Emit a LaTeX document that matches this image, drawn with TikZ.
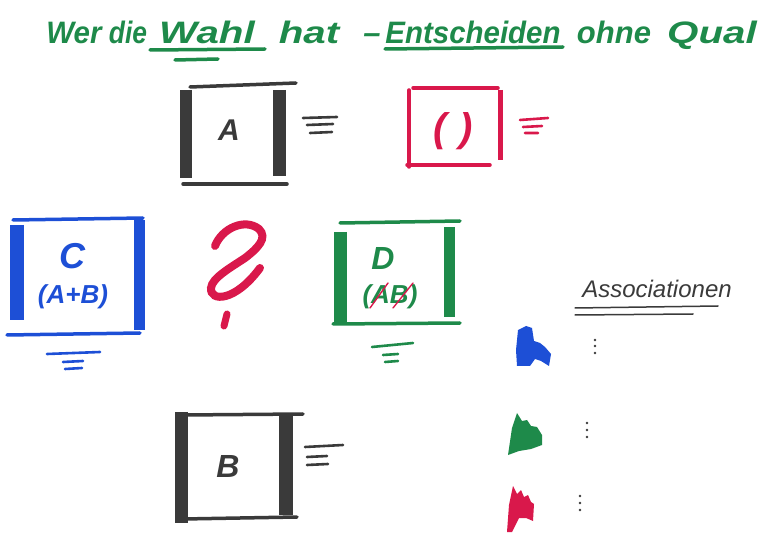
\documentclass[tikz,border=0pt]{standalone}
\usepackage{fontspec}
\setmainfont{Liberation Sans}
\usepackage{graphicx}
\definecolor{mgreen}{HTML}{1E8A4A}
\definecolor{mblue}{HTML}{1D4FD6}
\definecolor{mred}{HTML}{D9184B}
\definecolor{mgray}{HTML}{3A3A3A}
\begin{document}
\begin{tikzpicture}[x=1pt,y=-1pt,line cap=round,
  bar/.style={line width=#1,line cap=butt},
  pen/.style={line width=3.5pt},
  fine/.style={line width=2.6pt},
  hand/.style={font=\bfseries\itshape,inner sep=0pt},
  tw/.style={inner sep=0pt,anchor=base,text=mgreen,font=\bfseries\itshape\fontsize{31}{31}\selectfont}]
\useasboundingbox (0,0) rectangle (769,537);

% title, word by word
\node[tw] (t1) at (74,44) {\scalebox{0.95}[1]{Wer}};
\node[tw] (t2) at (128,44) {\scalebox{0.85}[1]{die}};
\node[tw] (t3) at (207,44) {\scalebox{1.3}[1]{Wahl}};
\node[tw] (t4) at (309,44) {\scalebox{1.3}[1]{hat}};
\node[tw] (t5) at (372,44) {–};
\node[tw] (t6) at (473,44) {\scalebox{0.95}[1]{Entscheiden}};
\node[tw] (t7) at (614,44) {ohne};
\node[tw] (t8) at (712,44) {\scalebox{1.3}[1]{Qual}};
\draw[mgreen,pen] ([xshift=-57pt,yshift=-6pt]t3.base) -- ([xshift=58pt,yshift=-5pt]t3.base);
\draw[mgreen,pen] ([xshift=-32pt,yshift=-16pt]t3.base) -- ([xshift=11pt,yshift=-15pt]t3.base);
\draw[mgreen,pen] ([xshift=-88pt,yshift=-5pt]t6.base) -- ([xshift=90pt,yshift=-3pt]t6.base);

% box A
\draw[mgray,bar=12pt] (186,90) -- (186,178);
\draw[mgray,bar=13pt] (279,90) -- (279,176);
\draw[mgray,pen] (190,87) -- (296,83);
\draw[mgray,pen] (183,184) -- (287,184);
\node[hand,text=mgray,font=\bfseries\itshape\fontsize{30}{30}\selectfont] (A) at (229,130) {A};
\draw[mgray,fine] (303,118) -- (337,117) (307,125) -- (333,124) (310,133) -- (332,132);

% pink box
\draw[mred,pen] (409,90) -- (409,167);
\draw[mred,bar=5pt] (500,90) -- (500,160);
\draw[mred,pen] (413,88) -- (498,88);
\draw[mred,pen] (407,165) -- (490,165);
\node[hand,text=mred,font=\bfseries\itshape\fontsize{40}{40}\selectfont] (P) at (453,131) {(\hspace{12pt})};
\draw[mred,fine] (520,120) -- (548,118) (523,127) -- (542,126) (525,133) -- (538,133);

% question mark
\draw[mred,line width=8pt] (215,246) .. controls (222,228) and (245,218) .. (259,229)
  .. controls (268,238) and (258,248) .. (245,258)
  .. controls (230,268) and (212,278) .. (211,288)
  .. controls (210,302) and (235,302) .. (260,268);
\draw[mred,line width=7pt] (227,314) -- (224,326);

% box C
\draw[mblue,bar=14pt] (17,225) -- (17,320);
\draw[mblue,bar=11pt] (139,220) -- (139,330);
\draw[mblue,pen] (13,220) -- (143,218);
\draw[mblue,pen] (7,335) -- (140,333);
\node[hand,text=mblue,font=\bfseries\itshape\fontsize{36}{36}\selectfont] (C) at (72,256) {C};
\node[hand,text=mblue,font=\bfseries\itshape\fontsize{26}{26}\selectfont] (CAB) at (73,297) {(A+B)};
\draw[mblue,fine] (47,354) -- (100,352) (63,362) -- (83,361) (65,369) -- (82,368);

% box D
\draw[mgreen,bar=13pt] (340,232) -- (340,323);
\draw[mgreen,bar=11pt] (449,227) -- (449,317);
\draw[mgreen,pen] (340,223) -- (460,221);
\draw[mgreen,pen] (333,324) -- (460,323);
\node[hand,text=mgreen,font=\bfseries\itshape\fontsize{32}{32}\selectfont] (D) at (383,258) {D};
\node[hand,text=mgreen,font=\bfseries\itshape\fontsize{26}{26}\selectfont] (DAB) at (390,297) {(AB)};
\draw[mred,line width=1.4pt] (370,308) -- (388,283) (393,308) -- (413,283);
\draw[mgreen,fine] (372,347) -- (413,343) (383,355) -- (398,354) (385,362) -- (398,361);

% box B
\draw[mgray,bar=13pt] (181,412) -- (181,523);
\draw[mgray,bar=14pt] (286,413) -- (286,515);
\draw[mgray,pen] (183,415) -- (303,414);
\draw[mgray,pen] (183,519) -- (297,517);
\node[hand,text=mgray,font=\bfseries\itshape\fontsize{32}{32}\selectfont] (B) at (228,466) {B};
\draw[mgray,fine] (305,447) -- (343,445) (307,457) -- (327,456) (307,465) -- (328,464);

% Associationen
\node[inner sep=0pt,text=mgray,font=\itshape\fontsize{24}{24}\selectfont] (assoc) at (657,289) {Associationen};
\draw[mgray,line width=1.5pt] (575,308) -- (718,306) (575,315) -- (693,314);

% blobs
\fill[mblue] (518,330) -- (526,326) -- (532,328) -- (534,341) -- (540,343) -- (545,347) -- (551,354)
  -- (549,366) -- (541,361) -- (535,359) -- (530,366) -- (517,366) -- (516,350) -- cycle;
\fill[mgreen] (508,455) -- (512,428) -- (517,413) -- (522,421) -- (527,420) -- (531,426)
  -- (537,427) -- (542,435) -- (542,445) -- (531,449) -- (519,451) -- cycle;
\fill[mred] (507,532) -- (509,505) -- (513,486) -- (517,494) -- (521,490) -- (524,497)
  -- (528,495) -- (531,502) -- (534,504) -- (533,521) -- (526,518) -- (519,518) -- (512,532) -- cycle;

% dots
\foreach \yy in {340,346,353} \fill[mgray] (595,\yy) circle (1.4pt);
\foreach \yy in {423,430,437} \fill[mgray] (587,\yy) circle (1.4pt);
\foreach \yy in {496,503,510} \fill[mgray] (580,\yy) circle (1.4pt);
\end{tikzpicture}
\end{document}
